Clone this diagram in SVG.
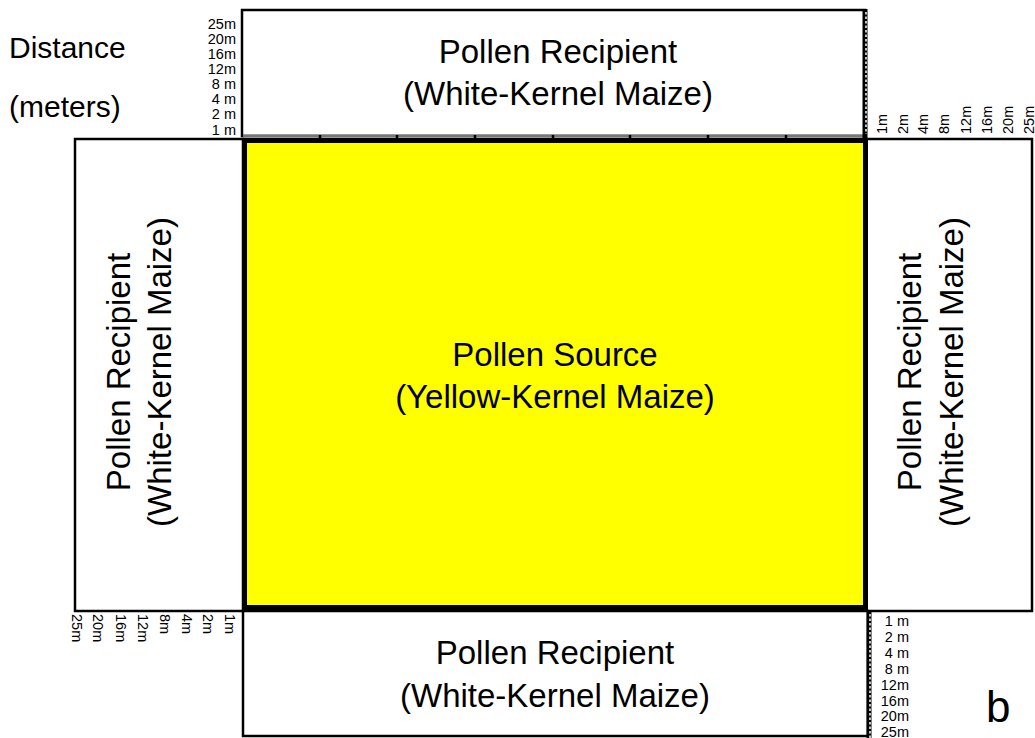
<svg xmlns="http://www.w3.org/2000/svg" width="1035" height="738" viewBox="0 0 1035 738">
<style>
  .box{fill:#fff;stroke:#000;stroke-width:2.5}
  .src{fill:#ffff00;stroke:#000;stroke-width:5}
  .big{font-family:"Liberation Sans",Arial,sans-serif;font-size:33px;fill:#000;text-anchor:middle}
  .lab{font-family:"Liberation Sans",Arial,sans-serif;font-size:30px;fill:#000}
  .sm{font-family:"Liberation Sans",Arial,sans-serif;font-size:14.5px;fill:#000}
  .rulerB{stroke:#000;stroke-width:5;fill:none}
  .rulerW{stroke:#fff;stroke-width:1.5;stroke-dasharray:2.5 2;fill:none}
  .tick{stroke:#000;stroke-width:2.5}
</style>
<rect width="1035" height="738" fill="#fff"/>

<g id="top-recipient">
  <rect class="box" x="242" y="10" width="623" height="126"/>
  <line x1="243" y1="136" x2="865" y2="136" stroke="#777" stroke-width="3"/>
  <g class="tick">
    <line x1="320" y1="135" x2="320" y2="138"/><line x1="397" y1="135" x2="397" y2="138"/>
    <line x1="475" y1="135" x2="475" y2="138"/><line x1="553" y1="135" x2="553" y2="138"/>
    <line x1="630" y1="135" x2="630" y2="138"/><line x1="708" y1="135" x2="708" y2="138"/>
    <line x1="786" y1="135" x2="786" y2="138"/>
  </g>
  <text class="big" x="558" y="63">Pollen Recipient</text>
  <text class="big" x="558" y="105">(White-Kernel Maize)</text>
</g>

<g id="left-recipient">
  <rect class="box" x="75" y="139" width="168" height="472"/>
  <text class="big" transform="translate(130,372) rotate(-90)">Pollen Recipient</text>
  <text class="big" transform="translate(171,372) rotate(-90)">(White-Kernel Maize)</text>
</g>

<g id="right-recipient">
  <rect class="box" x="866" y="139" width="166" height="472"/>
  <text class="big" transform="translate(921,372) rotate(-90)">Pollen Recipient</text>
  <text class="big" transform="translate(963,372) rotate(-90)">(White-Kernel Maize)</text>
</g>

<g id="bottom-recipient">
  <rect class="box" x="243" y="611" width="625" height="125"/>
  <text class="big" x="555" y="664">Pollen Recipient</text>
  <text class="big" x="555" y="707">(White-Kernel Maize)</text>
</g>

<g id="pollen-source">
  <rect class="src" x="244.5" y="140.5" width="621" height="467"/>
  <text class="big" x="555" y="366">Pollen Source</text>
  <text class="big" x="555" y="408">(Yellow-Kernel Maize)</text>
</g>

<g id="rulers">
  <line class="rulerB" x1="865" y1="9" x2="865" y2="138"/>
  <line class="rulerW" x1="866" y1="12" x2="866" y2="134"/>
  <line class="rulerB" x1="869" y1="611" x2="869" y2="738"/>
  <line class="rulerW" x1="870" y1="614" x2="870" y2="738"/>
</g>

<g id="scale-top-left" class="sm" text-anchor="end">
  <text x="236" y="29">25m</text>
  <text x="236" y="44">20m</text>
  <text x="236" y="59">16m</text>
  <text x="236" y="74">12m</text>
  <text x="236" y="89">8 m</text>
  <text x="236" y="104">4 m</text>
  <text x="236" y="119">2 m</text>
  <text x="236" y="135">1 m</text>
</g>

<g id="scale-top-right" class="sm" text-anchor="start">
  <text transform="translate(887,134) rotate(-90)">1m</text>
  <text transform="translate(908,134) rotate(-90)">2m</text>
  <text transform="translate(928,134) rotate(-90)">4m</text>
  <text transform="translate(949,134) rotate(-90)">8m</text>
  <text transform="translate(971,134) rotate(-90)">12m</text>
  <text transform="translate(992,134) rotate(-90)">16m</text>
  <text transform="translate(1013,134) rotate(-90)">20m</text>
  <text transform="translate(1034,134) rotate(-90)">25m</text>
</g>

<g id="scale-bottom-left" class="sm" text-anchor="start">
  <text transform="translate(72,614) rotate(90)">25m</text>
  <text transform="translate(93,614) rotate(90)">20m</text>
  <text transform="translate(116,614) rotate(90)">16m</text>
  <text transform="translate(138,614) rotate(90)">12m</text>
  <text transform="translate(160,614) rotate(90)">8m</text>
  <text transform="translate(182,614) rotate(90)">4m</text>
  <text transform="translate(203,614) rotate(90)">2m</text>
  <text transform="translate(225,614) rotate(90)">1m</text>
</g>

<g id="scale-bottom-right" class="sm" text-anchor="end">
  <text x="909" y="626">1 m</text>
  <text x="909" y="642">2 m</text>
  <text x="909" y="658">4 m</text>
  <text x="909" y="674">8 m</text>
  <text x="909" y="690">12m</text>
  <text x="909" y="706">16m</text>
  <text x="909" y="721">20m</text>
  <text x="909" y="737">25m</text>
</g>

<g id="labels">
  <text class="lab" x="9" y="58">Distance</text>
  <text class="lab" x="9" y="117">(meters)</text>
  <text class="lab" x="986" y="722" style="font-size:44px">b</text>
</g>
</svg>
